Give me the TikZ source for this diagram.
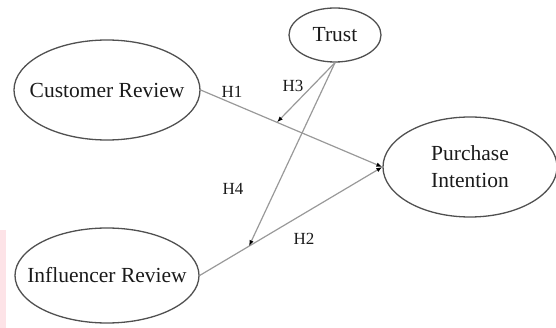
\documentclass[tikz,border=0pt]{standalone}
\usepackage{fontspec}
\setmainfont{Liberation Serif}
\usetikzlibrary{shapes.geometric,arrows.meta}
\definecolor{edgegray}{HTML}{505050}
\definecolor{linegray}{HTML}{999999}
\definecolor{txt}{HTML}{1A1A1A}
\definecolor{pinkstrip}{HTML}{FDE3E7}
\begin{document}
\begin{tikzpicture}[x=1pt,y=-1pt,
  var/.style={ellipse,draw=edgegray,line width=1.3pt,inner sep=0pt},
  lab/.style={text=txt,font=\fontsize{21.5}{27}\selectfont,align=center,inner sep=0pt},
  path/.style={draw=linegray,line width=1.2pt,-{Latex[length=6pt,width=4.5pt,black]}},
  hyp/.style={text=txt,font=\fontsize{17}{19}\selectfont,inner sep=0pt}]
\useasboundingbox (0,0) rectangle (556,328);
\fill[pinkstrip] (0,230) rectangle (6,328);
\node[var,minimum width=186pt,minimum height=100pt,label={[lab]center:Customer Review}] (C) at (107,90) {};
\node[var,minimum width=92pt,minimum height=54pt,label={[lab]center:Trust}] (T) at (335,35) {};
\node[var,minimum width=174pt,minimum height=100pt,label={[lab]center:Purchase\\Intention}] (P) at (470,167) {};
\node[var,minimum width=184pt,minimum height=95pt,label={[lab]center:Influencer Review}] (I) at (107,275.5) {};
\draw[path] (C.east) -- coordinate[pos=0.42] (m1) (P.west);
\draw[path] (I.east) -- coordinate[pos=0.27] (m2) (P.west);
\draw[path] (T.south) -- (m1);
\draw[path] (T.south) -- (m2);
\node[hyp] (h1) at (232,92) {H1};
\node[hyp] (h3) at (293,86) {H3};
\node[hyp] (h4) at (233,189) {H4};
\node[hyp] (h2) at (304,239) {H2};
\end{tikzpicture}
\end{document}
